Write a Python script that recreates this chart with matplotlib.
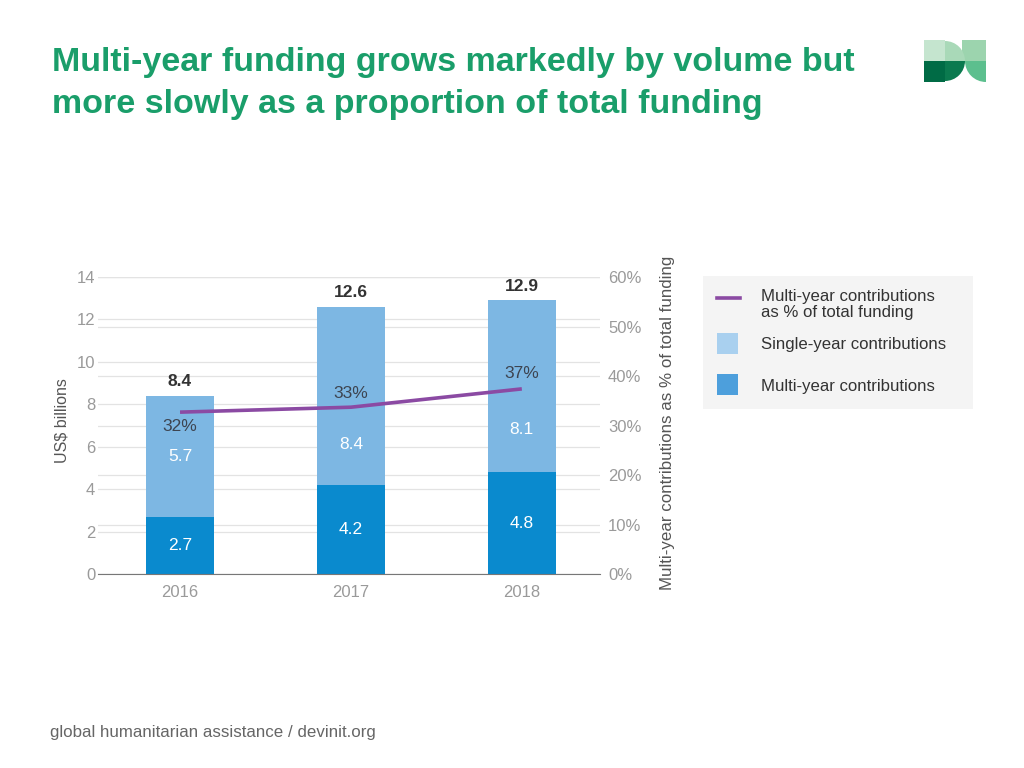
import matplotlib.pyplot as plt
from matplotlib.patches import Rectangle, Wedge
from matplotlib.lines import Line2D

plt.rcParams['font.family'] = ['Liberation Sans', 'DejaVu Sans']

years = ["2016", "2017", "2018"]
multi_year = [2.7, 4.2, 4.8]
single_year = [5.7, 8.4, 8.1]
totals = [8.4, 12.6, 12.9]
multi_share = [32.7, 33.7, 37.4]
share_labels = ["32%", "33%", "37%"]

LIGHT = "#7db7e3"
DARK = "#0a8ace"
PURPLE = "#8b4aa3"
GREEN = "#1a9e6a"
TICK = "#9a9a9a"
GRID = "#e3e3e3"

fig = plt.figure(figsize=(10.24, 7.68), dpi=100)
rect = [0.0957, 0.2526, 0.490, 0.3867]

# background axis for the percent scale (ticks + grid), sits under the bars
axp = fig.add_axes(rect)
axp.set_xlim(-0.48, 2.456)
axp.set_ylim(0, 60)
axp.yaxis.tick_right()
axp.yaxis.set_label_position("right")
axp.set_yticks(range(0, 61, 10))
axp.set_yticklabels([f"{v}%" for v in range(0, 61, 10)])
axp.set_xticks([])
axp.grid(axis='y', color=GRID, linewidth=0.9)
for s in axp.spines.values():
    s.set_visible(False)
axp.tick_params(axis='y', length=0, labelsize=12, labelcolor=TICK, pad=6)
axp.set_ylabel("Multi-year contributions as % of total funding", fontsize=12.2,
               color="#555555")
axp.yaxis.set_label_coords(1.12, 0.51)

# bars
ax = fig.add_axes(rect)
ax.patch.set_visible(False)
x = list(range(len(years)))
ax.bar(x, multi_year, width=0.40, color=DARK, zorder=2)
ax.bar(x, single_year, width=0.40, bottom=multi_year, color=LIGHT, zorder=2)
ax.set_xlim(-0.48, 2.456)
ax.set_ylim(0, 14)
ax.set_yticks(range(0, 15, 2))
ax.set_xticks(x)
ax.set_xticklabels(years)
ax.grid(axis='y', color=GRID, linewidth=0.9, zorder=0)
ax.set_axisbelow(True)
for s in ["top", "right", "left"]:
    ax.spines[s].set_visible(False)
ax.spines["bottom"].set_color("#777777")
ax.spines["bottom"].set_zorder(3)
ax.tick_params(axis='y', length=0, labelsize=12, labelcolor=TICK, pad=2)
ax.tick_params(axis='x', length=0, labelsize=12, labelcolor=TICK, pad=8)
ax.set_ylabel("US$ billions", fontsize=11.5, color="#555555")
ax.yaxis.set_label_coords(-0.056, 0.515)

for i in x:
    ax.text(i, multi_year[i] / 2, f"{multi_year[i]}", ha='center', va='center',
            color="white", fontsize=12.5, zorder=4)
    ax.text(i, totals[i] + 0.3, f"{totals[i]}", ha='center', va='bottom',
            color="#333333", fontsize=12.5, fontweight='bold', zorder=4)
single_label_y = [5.55, 6.1, 6.8]
for i in x:
    ax.text(i, single_label_y[i], f"{single_year[i]}", ha='center', va='center',
            color="white", fontsize=12.5, zorder=4)

# line on top, percent scale
axl = fig.add_axes(rect)
axl.patch.set_visible(False)
axl.set_xlim(-0.48, 2.456)
axl.set_ylim(0, 60)
axl.axis('off')
axl.plot(x, multi_share, color=PURPLE, linewidth=2.6, solid_capstyle='butt')
share_label_y = [29.9, 36.4, 40.6]
for i in x:
    axl.text(i, share_label_y[i], share_labels[i], ha='center', va='center',
             color="#3d4450", fontsize=12.5)

# legend panel
fig.patches.append(Rectangle((703 / 1024, 1 - 409 / 768), 270 / 1024, 133 / 768,
                             transform=fig.transFigure, facecolor="#f4f4f4",
                             edgecolor="none", zorder=0))
fig.add_artist(Line2D([717 / 1024, 740 / 1024], [1 - 298 / 768, 1 - 298 / 768],
                      color=PURPLE, linewidth=2.6))
fig.patches.append(Rectangle((717 / 1024, 1 - 354 / 768), 21 / 1024, 21 / 768,
                             transform=fig.transFigure, facecolor="#a9d0ef", edgecolor="none"))
fig.patches.append(Rectangle((717 / 1024, 1 - 395 / 768), 21 / 1024, 21 / 768,
                             transform=fig.transFigure, facecolor="#4d9fdc", edgecolor="none"))
fig.text(761 / 1024, 1 - 297 / 768, "Multi-year contributions", fontsize=12.1,
         color="#333333", va='center')
fig.text(761 / 1024, 1 - 312 / 768, "as % of total funding", fontsize=12.1,
         color="#333333", va='center')
fig.text(761 / 1024, 1 - 345 / 768, "Single-year contributions", fontsize=12.1,
         color="#333333", va='center')
fig.text(761 / 1024, 1 - 386 / 768, "Multi-year contributions", fontsize=12.1,
         color="#333333", va='center')

# title
fig.text(52 / 1024, 1 - 63 / 768, "Multi-year funding grows markedly by volume but",
         fontsize=24.5, fontweight='bold', color=GREEN, va='center')
fig.text(52 / 1024, 1 - 104 / 768, "more slowly as a proportion of total funding",
         fontsize=24.5, fontweight='bold', color=GREEN, va='center')

# footer
fig.text(50 / 1024, 1 - 733 / 768, "global humanitarian assistance / devinit.org",
         fontsize=12.2, color="#666666", va='center')

# logo
lax = fig.add_axes([924 / 1024, 1 - 82 / 768, 62 / 1024, 42 / 768])
lax.set_xlim(0, 62)
lax.set_ylim(0, 42)
lax.axis('off')
lax.add_patch(Rectangle((38, 21), 24, 21, color="#9cd4ae", lw=0))
lax.add_patch(Rectangle((0, 21), 21, 21, color="#c5e5cf", lw=0))
lax.add_patch(Rectangle((0, 0), 21, 21, color="#006b45", lw=0))
lax.add_patch(Wedge((21, 21), 20, 0, 90, color="#a9d9b8", lw=0))
lax.add_patch(Wedge((21, 21), 20, 270, 360, color="#0b7a4f", lw=0))
lax.add_patch(Wedge((62, 21), 21, 180, 270, color="#5cbf8e", lw=0))

fig.savefig("out.png", dpi=100)
